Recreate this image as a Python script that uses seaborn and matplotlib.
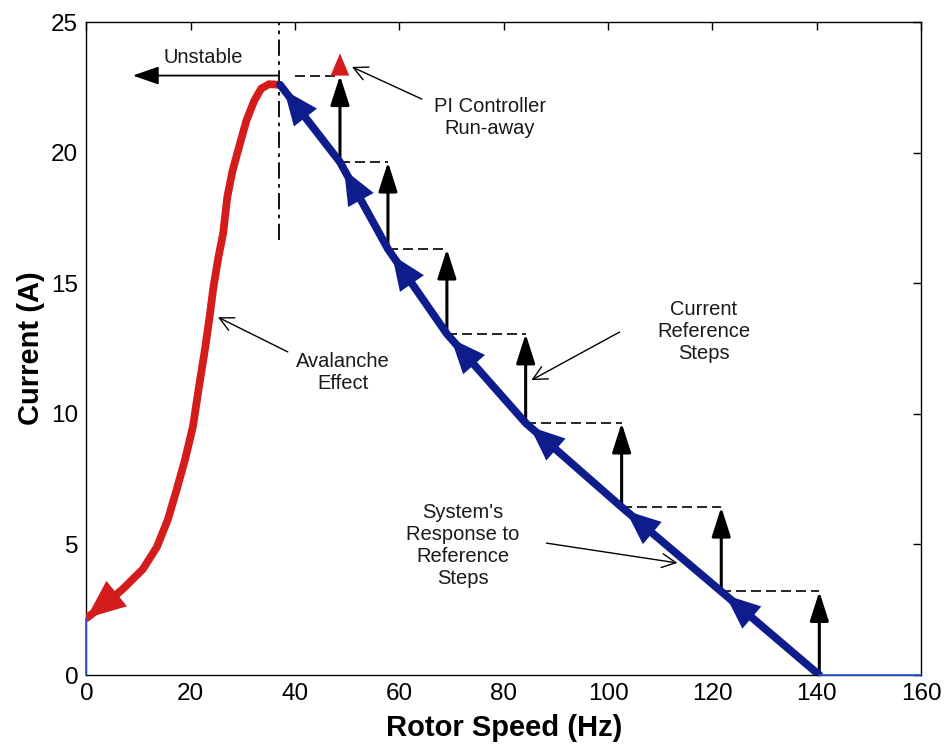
import matplotlib
matplotlib.use("Agg")
import matplotlib.pyplot as plt
import seaborn as sns
import pandas as pd
import numpy as np

# Avalanche branch (red)
red_speed = [0, 3.9, 7.0, 10.8, 13.5, 15.6, 17.3, 18.9, 20.4, 21.7, 22.7, 23.6,
             24.3, 25.3, 26.2, 27.0, 28.0, 29.5, 30.7, 32.2, 33.5, 35.0, 36.8]
red_current = [2.18, 2.76, 3.3, 4.05, 4.9, 5.95, 7.1, 8.25, 9.5, 11.2, 12.45, 13.7,
               14.8, 16.0, 16.9, 18.3, 19.3, 20.4, 21.25, 22.0, 22.45, 22.62, 22.6]

# Stable branch (blue), kinks where each reference step starts
blue_speed = [37.1, 48.6, 57.8, 69.1, 84.2, 102.6, 121.7, 140.5]
blue_current = [22.6, 19.64, 16.31, 13.06, 9.65, 6.43, 3.2, 0.0]

# Current reference steps
step_speed = [140.5, 121.7, 102.6, 84.2, 69.1, 57.8, 48.6]
step_from = [0.0, 3.2, 6.43, 9.65, 13.06, 16.31, 19.64]
step_to = [3.2, 6.43, 9.65, 13.06, 16.31, 19.64, 22.95]
step_dash_start = [121.7, 102.6, 84.2, 69.1, 57.8, 48.6, 39.9]

# Stability limit and PI run-away
limit_speed = 36.9
limit_bottom = 16.65
unstable_end = 8.9
runaway_top = 23.8

# Thin blue traces along the axes
stall_speed = [0, 0]
stall_current = [0, 2.18]
idle_speed = [140.5, 160]
idle_current = [0, 0]

RED = "#d41c1c"
NAVY = "#0f1d8c"
THIN = "#2a5be0"

sns.set_theme(style="white")
plt.rcParams["font.family"] = ["Liberation Sans", "DejaVu Sans"]

fig = plt.figure(figsize=(9.46, 7.44), dpi=100)
ax = fig.add_axes([0.0914, 0.0927, 0.8822, 0.8777])

red = pd.DataFrame({"speed": red_speed, "current": red_current})
blue = pd.DataFrame({"speed": blue_speed, "current": blue_current})

sns.lineplot(data=red, x="speed", y="current", sort=False, estimator=None,
             color=RED, linewidth=5.6, ax=ax, zorder=4)
sns.lineplot(data=blue, x="speed", y="current", sort=False, estimator=None,
             color=NAVY, linewidth=5.6, ax=ax, zorder=4)
ax.plot(stall_speed, stall_current, color=THIN, lw=1.2, clip_on=False, zorder=5)
ax.plot(idle_speed, idle_current, color=THIN, lw=1.2, clip_on=False, zorder=5)

# red arrow head at the end of the avalanche
ax.annotate("", xy=(red_speed[0], red_current[0]), xytext=(6.0, 3.15),
            arrowprops=dict(arrowstyle="-|>,head_length=1.0,head_width=0.42",
                            color=RED, lw=0, shrinkA=0, shrinkB=0,
                            mutation_scale=28), zorder=5)

# blue arrow heads pointing up the stable branch
for i in range(len(blue_speed) - 1):
    xb, yb = blue_speed[i], blue_current[i]
    xa, ya = blue_speed[i + 1], blue_current[i + 1]
    frac_tip = 0.8 / (xa - xb)
    frac_tail = 6.5 / (xa - xb)
    tip = (xb + frac_tip * (xa - xb), yb + frac_tip * (ya - yb))
    tail = (xb + frac_tail * (xa - xb), yb + frac_tail * (ya - yb))
    ax.annotate("", xy=tip, xytext=tail,
                arrowprops=dict(arrowstyle="-|>,head_length=1.0,head_width=0.42",
                                color=NAVY, lw=0, shrinkA=0, shrinkB=0,
                                mutation_scale=25), zorder=5)

# reference steps: dashed levels and vertical arrows
ax.hlines(step_to, step_dash_start, step_speed, colors="black", lw=1.2,
          linestyles=(0, (6, 3)), zorder=3)
for x, y0, y1 in zip(step_speed, step_from, step_to):
    ax.annotate("", xy=(x, y1), xytext=(x, y0),
                arrowprops=dict(arrowstyle="-|>,head_length=1.0,head_width=0.32",
                                color="black", lw=2.2, shrinkA=0, shrinkB=0,
                                mutation_scale=18), zorder=3)

# PI controller run-away (red triangle)
ax.annotate("", xy=(step_speed[-1], runaway_top), xytext=(step_speed[-1], step_to[-1]),
            arrowprops=dict(arrowstyle="-|>,head_length=1.0,head_width=0.42",
                            color=RED, lw=0, shrinkA=0, shrinkB=0,
                            mutation_scale=16), zorder=5)

# stability limit
ax.vlines(limit_speed, limit_bottom, 25, colors="black", lw=1.3,
          linestyles=(0, (9, 3, 2, 3)), zorder=3)
ax.annotate("", xy=(unstable_end, step_to[-1]), xytext=(limit_speed, step_to[-1]),
            arrowprops=dict(arrowstyle="-|>,head_length=1.0,head_width=0.35",
                            color="black", lw=1.3, shrinkA=0, shrinkB=0,
                            mutation_scale=16), zorder=3)

# text annotations
txt = dict(fontsize=14.5, ha="center", va="center", color="#1a1a1a")
thin_arrow = dict(arrowstyle="->,head_length=0.5,head_width=0.25", color="black",
                  lw=1.0, shrinkA=0, shrinkB=0)
ax.text(22.3, 23.66, "Unstable", **txt)
ax.text(77.3, 21.36, "PI Controller\nRun-away", multialignment="center", **txt)
ax.annotate("", xy=(50.9, 23.28), xytext=(64.3, 22.05),
            arrowprops=dict(thin_arrow, mutation_scale=20))
ax.text(49.1, 11.6, "Avalanche\nEffect", multialignment="center", **txt)
ax.annotate("", xy=(25.2, 13.7), xytext=(38.6, 12.37),
            arrowprops=dict(thin_arrow, mutation_scale=20))
ax.text(118.3, 13.17, "Current\nReference\nSteps", multialignment="center", **txt)
ax.annotate("", xy=(85.3, 11.29), xytext=(102.2, 13.13),
            arrowprops=dict(thin_arrow, mutation_scale=20))
ax.text(72.1, 4.94, "System's\nResponse to\nReference\nSteps",
        multialignment="center", **txt)
ax.annotate("", xy=(113.3, 4.29), xytext=(88.2, 5.05),
            arrowprops=dict(thin_arrow, mutation_scale=20))

# axes
ax.set_xlim(0, 160)
ax.set_ylim(0, 25)
ax.set_xticks(np.arange(0, 161, 20))
ax.set_yticks(np.arange(0, 26, 5))
ax.tick_params(direction="in", length=6, width=1, top=True, right=True,
               labelsize=17.5, pad=6, colors="black")
for s in ax.spines.values():
    s.set_color("black")
    s.set_linewidth(1.0)
ax.set_xlabel("Rotor Speed (Hz)", fontsize=21, fontweight="bold", labelpad=6,
              color="black")
ax.set_ylabel("Current (A)", fontsize=21, fontweight="bold", labelpad=4,
              color="black")

fig.savefig("out.png", dpi=100)
